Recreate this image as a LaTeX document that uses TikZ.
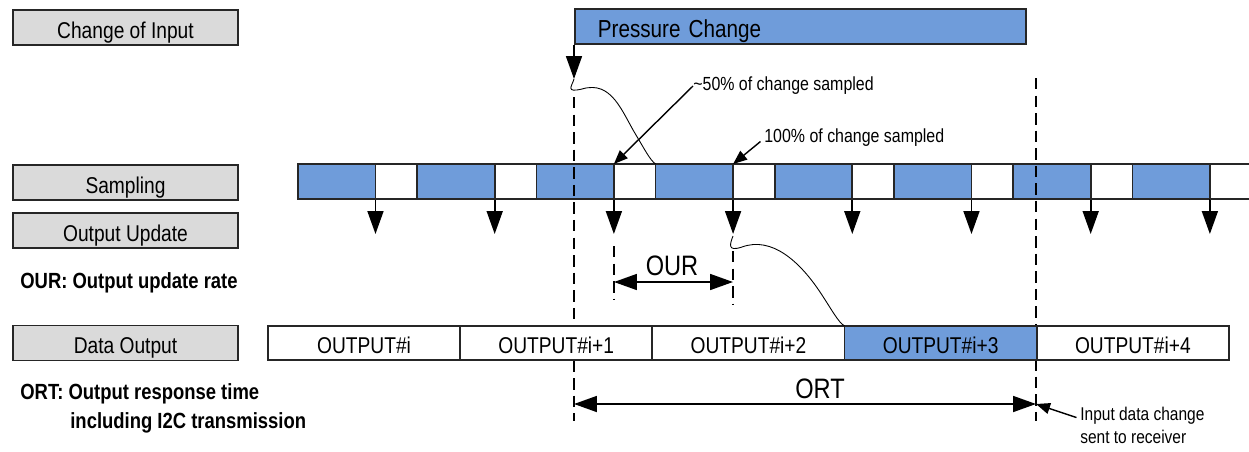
\documentclass[tikz,border=0pt]{standalone}
\usepackage{fontspec}
\setmainfont[FakeStretch=0.84]{Liberation Sans}
\usepackage{xcolor}
\usetikzlibrary{positioning, arrows.meta}
\definecolor{sblue}{HTML}{6F9CDA}
\definecolor{lblgray}{HTML}{DADADA}

\begin{document}
\begin{tikzpicture}[x=0.02cm, y=-0.02cm,
        >={Triangle[length=0.46cm,width=0.32cm]},
        every node/.style={font=\fontsize{13}{15}\selectfont},
        lblbox/.style={rectangle,draw=black!85,fill=lblgray,line width=1pt,
          minimum width=4.5cm,minimum height=0.7cm,inner sep=0pt,text height=12.5pt,text depth=0pt},
        sampon/.style={rectangle,draw=black!85,fill=sblue,line width=1pt,
          minimum width=1.55cm,minimum height=0.7cm,inner sep=0pt,outer sep=0pt,anchor=west},
        sampoff/.style={sampon,fill=white,minimum width=0.834cm},
        cell/.style={rectangle,draw=black!85,fill=white,line width=1pt,
          minimum width=3.844cm,minimum height=0.68cm,inner sep=0pt,outer sep=0pt,anchor=west,
          text height=12.5pt,text depth=0pt,font=\fontsize{13}{15}\selectfont},
        guide/.style={dash pattern=on 6.5pt off 3.5pt,line width=0.8pt},
        wiggle/.style={line width=0.5pt},
        small/.style={font=\fontsize{10.8}{13}\selectfont,inner sep=0pt},
        big/.style={font=\fontsize{16}{18}\selectfont,inner sep=0pt},
        note/.style={font=\fontsize{12.5}{15}\selectfont\bfseries,anchor=west,inner sep=0pt},
        smallarr/.style={-{Triangle[length=0.28cm,width=0.22cm]},line width=0.8pt}]

        \useasboundingbox (0,0) rectangle (1249,451);

        % row labels
        \node[lblbox] (chg)  at (125.5,27.5)  {Change of Input};
        \node[lblbox] (samp) at (125.5,182.5) {Sampling};
        \node[lblbox] (upd)  at (125.5,230.5) {Output Update};
        \node[lblbox] (dout) at (125.5,343)   {Data Output};

        \node[note] (ournote)  at (20,283) {OUR: Output update rate};
        \node[note] (ortnote)  at (20,394) {ORT: Output response time};
        \node[note] (ortnote2) at (70,423) {including I2C transmission};

        % input change
        \node[rectangle,draw=black!85,fill=sblue,line width=1pt,anchor=north west,
          minimum height=0.7cm,text width=8.1cm,inner xsep=0.46cm,inner ysep=0pt,align=left,
          text height=13pt,text depth=0pt,font=\fontsize{14}{16}\selectfont] (press) at (574,8) {Pressure Change};

        % sampling bar
        \foreach \i in {0,...,7} {
          \node[sampon] (on\i) at ({298+\i*119.2},181.5) {};
          \draw[->,line width=1pt] (on\i.south east) -- ++(0,35);
        }
        \foreach \i in {0,...,6} {
          \node[sampoff] (off\i) at (on\i.east) {};
        }
        \draw[line width=1pt,draw=black!85] (on7.north east) -- ++(45,0)
          (on7.south east) -- ++(45,0);

        \coordinate (pin) at (574,79);
        \coordinate (a0)  at (574,97);
        \coordinate (a1)  at (574,421);
        \coordinate (b0)  at (1036,78);
        \coordinate (b1)  at (1036,421);
        \coordinate (c0)  at (614,246);
        \coordinate (c1)  at (614,300);
        \coordinate (uin) at (733,236);
        \coordinate (e0)  at (733,251);
        \coordinate (e1)  at (733,305);
        \coordinate (ourL) at (614,282);
        \coordinate (ourR) at (733,282);
        \coordinate (ortL) at (574,404);
        \coordinate (ortR) at (1036,404);

        \draw[->,line width=1pt] (press.south west) -- (pin);

        % guides
        \draw[guide] (a0) -- (a1);
        \draw[guide] (b0) -- (b1);
        \draw[guide] (c0) -- (c1);
        \draw[guide] (e0) -- (e1);

        % data output
        \foreach \i/\t in {0/{OUTPUT\#i},1/{OUTPUT\#i+1},2/{OUTPUT\#i+2},3/{OUTPUT\#i+3},4/{OUTPUT\#i+4}} {
          \node[cell] (d\i) at ({268+\i*192.2},343) {\t};
        }
        \node[cell,fill=sblue] at (d3.west) {OUTPUT\#i+3};

        % change propagation
        \draw[wiggle] (pin) .. controls (572,86) and (565,93) .. (582,89)
          .. controls (612,80) and (622,112) .. (636,135)
          .. controls (645,150) and (650,160) .. (off2.north east);
        \draw[wiggle] (uin) .. controls (730,244) and (727,252) .. (742,247)
          .. controls (772,236) and (800,262) .. (820,292)
          .. controls (832,310) and (838,322) .. (d3.north west);

        \node[small,anchor=west] (n50)  at (693,86)  {\textasciitilde 50\% of change sampled};
        \node[small,anchor=west] (n100) at (764,138) {100\% of change sampled};
        \draw[smallarr] (n50.west) -- (on2.north east);
        \draw[smallarr] ([xshift=-2pt,yshift=-2pt]n100.west) -- (on3.north east);

        % dimensions
        \draw[<->,line width=1pt] (ourL) -- (ourR);
        \node[big] (our) at (672,266) {OUR};
        \draw[<->,line width=1pt] (ortL) -- (ortR);
        \node[big] (ort) at (820,389) {ORT};

        \node[small,anchor=north west,align=left,font=\fontsize{10.5}{13}\selectfont] (inp) at (1080,407)
          {Input data change\\sent to receiver};
        \draw[smallarr] ([xshift=-2pt,yshift=-6pt]inp.north west) -- (ortR);
      \end{tikzpicture}
\end{document}
